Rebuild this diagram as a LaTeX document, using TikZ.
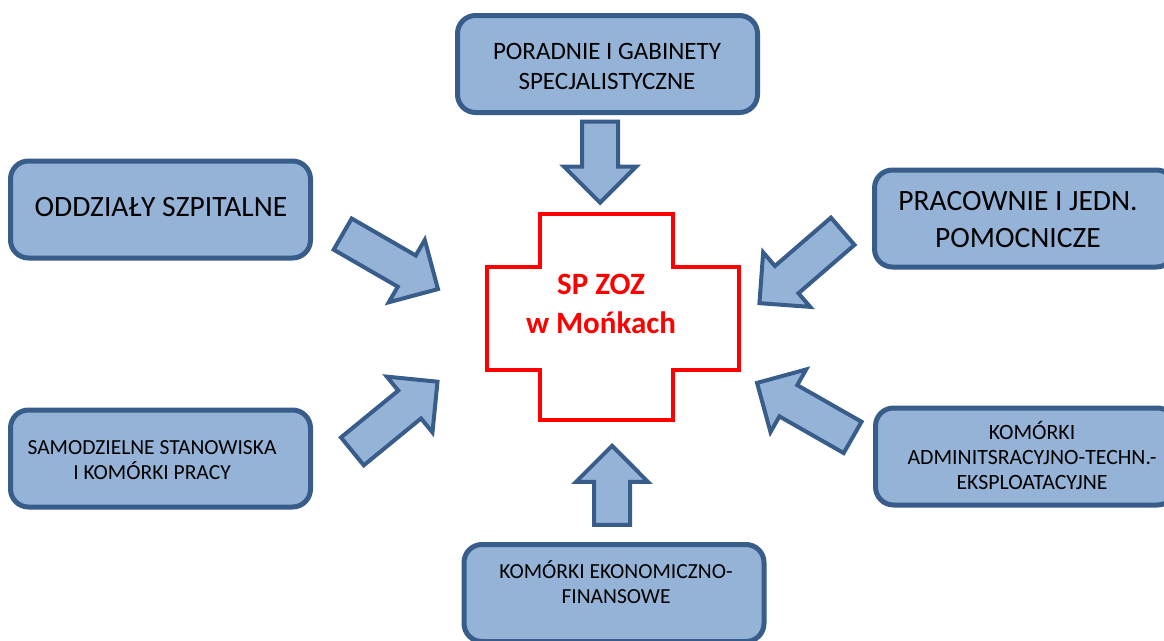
\documentclass[tikz,border=0pt]{standalone}
\usepackage{fontspec}
\setmainfont{Carlito}
\usetikzlibrary{shapes.arrows}
\definecolor{boxfill}{RGB}{149,179,215}
\definecolor{boxline}{RGB}{56,93,138}
\definecolor{crossred}{RGB}{255,0,0}
\begin{document}
\begin{tikzpicture}[x=1pt,y=-1pt,
  box/.style={draw=boxline, fill=boxfill, line width=5pt, rounded corners=18pt,
    minimum width=300pt, minimum height=97pt, inner sep=0pt},
  boxtext/.style={align=center, inner sep=0pt, text=black},
  barrow/.style={single arrow, draw=boxline, fill=boxfill, line width=4pt,
    inner sep=0pt, inner ysep=16pt, single arrow head extend=18pt,
    minimum width=68pt, anchor=tip},
]
\useasboundingbox (0,0) rectangle (1164,640);

% boxes
\node[box] (poradnie) at (607.5,64) {};
\node[box] (oddzialy) at (160.5,209.5) {};
\node[box] (pracownie) at (1024.5,218.5) {};
\node[box] (samodz) at (160.5,458.5) {};
\node[box] (admin) at (1025.5,456.5) {};
\node[box] (ekonom) at (614,593) {};

\node[boxtext, font=\fontsize{25}{30}\selectfont] (tporadnie) at (607,66) {PORADNIE I GABINETY\\SPECJALISTYCZNE};
\node[boxtext, font=\fontsize{29.5}{35}\selectfont] (toddzialy) at (161,207) {ODDZIAŁY SZPITALNE};
\node[boxtext, font=\fontsize{29.5}{37}\selectfont] (tpracownie) at (1018,219.5) {PRACOWNIE I JEDN.\\POMOCNICZE};
\node[boxtext, font=\fontsize{21.5}{25}\selectfont] (tsamodz) at (152,460) {SAMODZIELNE STANOWISKA\\I KOMÓRKI PRACY};
\node[boxtext, font=\fontsize{21.8}{25}\selectfont] (tadmin) at (1032,455.5) {KOMÓRKI\\ADMINITSRACYJNO-TECHN.-\\EKSPLOATACYJNE};
\node[boxtext, font=\fontsize{21.5}{25}\selectfont] (tekonom) at (616,582.5) {KOMÓRKI EKONOMICZNO-\\FINANSOWE};

% cross
\draw[crossred, line width=4pt] (540,214) -- (673,214) -- (673,267) -- (739,267)
  -- (739,370) -- (673,370) -- (673,420) -- (540,420) -- (540,370) -- (487,370)
  -- (487,267) -- (540,267) -- cycle;
\node[align=center, text=crossred, font=\bfseries\fontsize{31}{39}\selectfont, inner sep=0pt] (center) at (601,303.5) {SP ZOZ\\w Mońkach};

% arrows
\node[barrow, minimum height=81pt, rotate=-90] (adown) at (600,205.5) {};
\node[barrow, minimum height=79pt, rotate=90] (aup) at (612,443) {};
\node[barrow, minimum height=110pt, rotate=-30] (atl) at (440.4,290.5) {};
\node[barrow, minimum height=110pt, rotate=-139.2] (atr) at (757.3,305) {};
\node[barrow, minimum height=110pt, rotate=39.3] (abl) at (439.7,379.9) {};
\node[barrow, minimum height=110pt, rotate=150.3] (abr) at (754.6,381.5) {};
\end{tikzpicture}
\end{document}
